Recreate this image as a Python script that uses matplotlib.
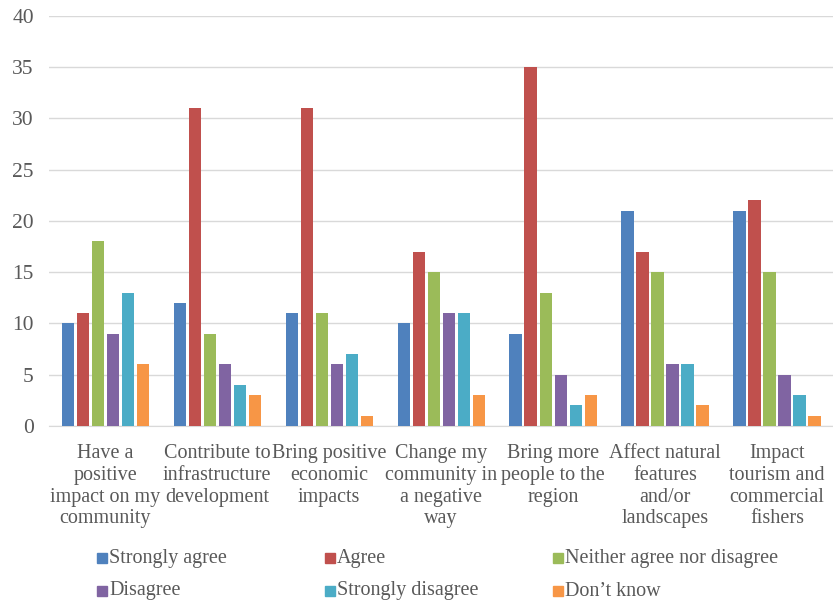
import numpy as np
import matplotlib
matplotlib.use('Agg')
import matplotlib.pyplot as plt
from matplotlib.patches import Rectangle

plt.rcParams['font.family'] = ['Liberation Serif', 'DejaVu Serif']

categories = [
    "Have a\npositive\nimpact on my\ncommunity",
    "Contribute to\ninfrastructure\ndevelopment",
    "Bring positive\neconomic\nimpacts",
    "Change my\ncommunity in\na negative\nway",
    "Bring more\npeople to the\nregion",
    "Affect natural\nfeatures\nand/or\nlandscapes",
    "Impact\ntourism and\ncommercial\nfishers",
]

series_names = ["Strongly agree", "Agree", "Neither agree nor disagree",
                "Disagree", "Strongly disagree", "Don\u2019t know"]

strongly_agree = [10, 12, 11, 10, 9, 21, 21]
agree = [11, 31, 31, 17, 35, 17, 22]
neither = [18, 9, 11, 15, 13, 15, 15]
disagree = [9, 6, 6, 11, 5, 6, 5]
strongly_disagree = [13, 4, 7, 11, 2, 6, 3]
dont_know = [6, 3, 1, 3, 3, 2, 1]

values = [strongly_agree, agree, neither, disagree, strongly_disagree, dont_know]
colors = ["#4F81BD", "#C0504D", "#9BBB59", "#8064A2", "#4BACC6", "#F79646"]

fig = plt.figure(figsize=(8.33, 6.05), dpi=100)
ax = fig.add_axes([0.059, 0.296, 0.941, 0.678])

x = np.arange(len(categories))
step = 0.134
for i, (vals, col) in enumerate(zip(values, colors)):
    ax.bar(x + (i - 2.5) * step, vals, width=0.108, color=col, zorder=3)

ax.set_xlim(-0.5, len(categories) - 0.5)
ax.set_ylim(0, 40)
ax.set_yticks(range(0, 41, 5))
ax.yaxis.grid(True, color="#D9D9D9", linewidth=1)
ax.set_axisbelow(True)
for side in ["left", "right", "top"]:
    ax.spines[side].set_visible(False)
ax.spines["bottom"].set_color("#D9D9D9")
ax.tick_params(axis="y", length=0, labelsize=15.5, labelcolor="#595959", pad=11)
ax.tick_params(axis="x", length=0, labelsize=14.5, labelcolor="#595959", pad=13)
ax.set_xticks(x)
ax.set_xticklabels(categories, va="top", ha="center", linespacing=1.2)

# legend laid out as an even 3 x 2 grid (pixel positions)
col_x = [102, 330, 558]
row_y = [558, 591]
W, H = 833, 605
for k, (name, col) in enumerate(zip(series_names, colors)):
    cx = col_x[k % 3]
    cy = row_y[k // 3]
    fig.add_artist(Rectangle(((cx - 5) / W, 1 - (cy + 5) / H), 10 / W, 10 / H,
                             transform=fig.transFigure, color=col))
    fig.text((cx + 7) / W, 1 - cy / H, name, fontsize=14.5, color="#595959",
             va="center", ha="left")

fig.savefig("out.png", dpi=100)
